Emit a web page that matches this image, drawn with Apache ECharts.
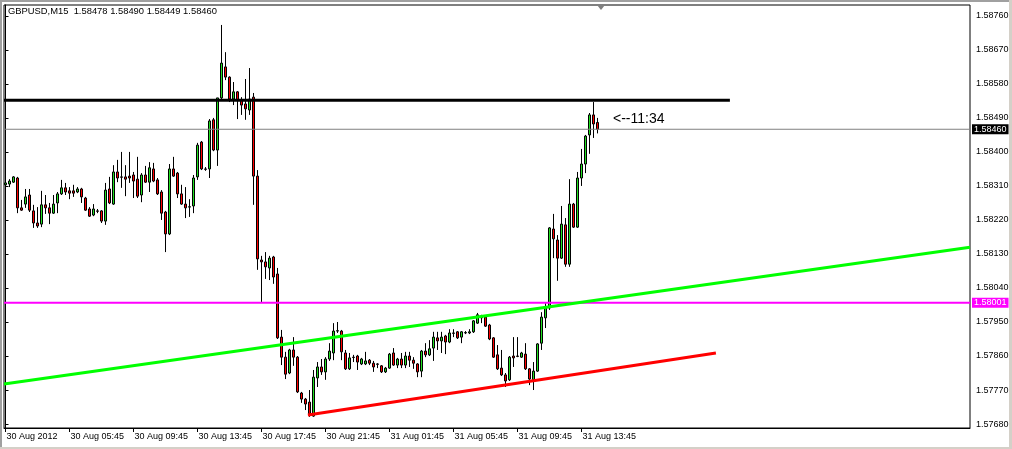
<!DOCTYPE html>
<html>
<head>
<meta charset="utf-8">
<script src="https://cdn.jsdelivr.net/npm/echarts@6/dist/echarts.min.js"></script>
<style>
html,body{margin:0;padding:0;background:#fff;}
#c{width:1012px;height:449px;}
</style>
</head>
<body>
<div id="c"></div>
<script>
// ---- data (GBPUSD M15, bar 0 = 30 Aug 01:45) ----
const tickBars = [0,16,32,48,64,80,96,112,128,144];
const tickLabels = ["30 Aug 2012","30 Aug 05:45","30 Aug 09:45","30 Aug 13:45","30 Aug 17:45","30 Aug 21:45","31 Aug 01:45","31 Aug 05:45","31 Aug 09:45","31 Aug 13:45"];
const yTicks = [1.57680,1.57770,1.57860,1.57950,1.58040,1.58130,1.58220,1.58310,1.58400,1.58490,1.58580,1.58670,1.58760];

const open = [
1.58313,1.58315,1.58320,1.58331,1.58252,1.58262,1.58286,1.58244,1.58212,1.58209,
1.58260,1.58252,1.58238,1.58265,1.58289,1.58305,1.58297,1.58297,1.58294,1.58302,
1.58278,1.58249,1.58233,1.58244,1.58244,1.58217,1.58302,1.58262,1.58347,1.58334,
1.58334,1.58336,1.58339,1.58328,1.58286,1.58339,1.58320,1.58355,1.58326,1.58294,
1.58241,1.58183,1.58355,1.58344,1.58289,1.58262,1.58254,1.58257,1.58334,1.58426,
1.58355,1.58355,1.58485,1.58405,1.58543,1.58625,1.58598,1.58540,1.58559,1.58537,
1.58527,1.58511,1.58545,1.58336,1.58114,1.58109,1.58093,1.58122,1.58077,1.57910,
1.57857,1.57815,1.57876,1.57857,1.57762,1.57746,1.57738,1.57701,1.57802,1.57831,
1.57818,1.57852,1.57868,1.57926,1.57926,1.57868,1.57826,1.57857,1.57860,1.57839,
1.57839,1.57849,1.57841,1.57839,1.57834,1.57818,1.57828,1.57868,1.57836,1.57852,
1.57836,1.57860,1.57849,1.57839,1.57820,1.57873,1.57863,1.57881,1.57908,1.57900,
1.57913,1.57897,1.57921,1.57924,1.57910,1.57921,1.57921,1.57924,1.57947,1.57966,
1.57963,1.57942,1.57908,1.57863,1.57828,1.57810,1.57797,1.57860,1.57860,1.57857,
1.57865,1.57826,1.57797,1.57820,1.57894,1.57961,1.57987,1.58196,1.58167,1.58119,
1.58207,1.58103,1.58262,1.58201,1.58331,1.58368,1.58445,1.58498,1.58478];
const high = [
1.58331,1.58328,1.58336,1.58334,1.58273,1.58302,1.58302,1.58260,1.58254,1.58297,
1.58286,1.58265,1.58286,1.58294,1.58326,1.58318,1.58307,1.58313,1.58307,1.58305,
1.58281,1.58254,1.58262,1.58249,1.58246,1.58318,1.58334,1.58365,1.58379,1.58400,
1.58365,1.58400,1.58347,1.58387,1.58344,1.58363,1.58373,1.58371,1.58331,1.58299,
1.58244,1.58368,1.58387,1.58347,1.58313,1.58307,1.58275,1.58339,1.58424,1.58429,
1.58360,1.58487,1.58490,1.58543,1.58736,1.58664,1.58600,1.58585,1.58561,1.58545,
1.58593,1.58622,1.58556,1.58352,1.58125,1.58135,1.58125,1.58125,1.58093,1.57929,
1.57871,1.57879,1.57910,1.57860,1.57765,1.57749,1.57770,1.57823,1.57844,1.57852,
1.57857,1.57894,1.57947,1.57950,1.57929,1.57876,1.57868,1.57863,1.57863,1.57855,
1.57871,1.57852,1.57847,1.57841,1.57836,1.57831,1.57868,1.57881,1.57855,1.57868,
1.57871,1.57871,1.57857,1.57841,1.57876,1.57894,1.57902,1.57924,1.57924,1.57924,
1.57916,1.57931,1.57931,1.57926,1.57926,1.57926,1.57931,1.57955,1.57974,1.57969,
1.57966,1.57945,1.57910,1.57889,1.57876,1.57815,1.57860,1.57910,1.57910,1.57871,
1.57894,1.57828,1.57844,1.57894,1.57976,1.58000,1.58201,1.58236,1.58180,1.58257,
1.58225,1.58328,1.58265,1.58347,1.58408,1.58445,1.58503,1.58532,1.58490];
const low = [
1.58297,1.58307,1.58318,1.58238,1.58244,1.58252,1.58241,1.58199,1.58199,1.58201,
1.58236,1.58209,1.58236,1.58238,1.58286,1.58286,1.58275,1.58281,1.58291,1.58265,
1.58244,1.58228,1.58230,1.58238,1.58212,1.58207,1.58262,1.58260,1.58320,1.58305,
1.58283,1.58318,1.58278,1.58278,1.58267,1.58318,1.58294,1.58320,1.58286,1.58220,
1.58135,1.58180,1.58334,1.58278,1.58260,1.58225,1.58228,1.58238,1.58326,1.58352,
1.58350,1.58331,1.58402,1.58363,1.58540,1.58590,1.58532,1.58524,1.58487,1.58498,
1.58485,1.58498,1.58260,1.58088,1.58003,1.58064,1.58061,1.58051,1.57905,1.57836,
1.57799,1.57812,1.57834,1.57762,1.57736,1.57717,1.57699,1.57699,1.57778,1.57810,
1.57797,1.57847,1.57849,1.57921,1.57849,1.57823,1.57823,1.57844,1.57823,1.57836,
1.57836,1.57836,1.57818,1.57828,1.57815,1.57815,1.57826,1.57834,1.57828,1.57828,
1.57828,1.57831,1.57826,1.57804,1.57804,1.57857,1.57860,1.57847,1.57876,1.57868,
1.57865,1.57894,1.57910,1.57905,1.57894,1.57918,1.57918,1.57921,1.57945,1.57947,
1.57937,1.57902,1.57855,1.57823,1.57807,1.57778,1.57794,1.57831,1.57857,1.57855,
1.57823,1.57783,1.57770,1.57818,1.57876,1.57934,1.57982,1.58119,1.58059,1.58117,
1.58096,1.58096,1.58199,1.58199,1.58310,1.58344,1.58395,1.58437,1.58449];
const close = [
1.58318,1.58323,1.58334,1.58252,1.58246,1.58281,1.58246,1.58212,1.58204,1.58260,
1.58252,1.58238,1.58262,1.58289,1.58305,1.58294,1.58291,1.58291,1.58302,1.58281,
1.58246,1.58230,1.58249,1.58243,1.58217,1.58299,1.58265,1.58347,1.58331,1.58333,
1.58328,1.58331,1.58323,1.58283,1.58339,1.58320,1.58358,1.58323,1.58289,1.58238,
1.58183,1.58355,1.58336,1.58289,1.58262,1.58252,1.58255,1.58331,1.58418,1.58355,
1.58354,1.58482,1.58405,1.58543,1.58635,1.58598,1.58540,1.58559,1.58537,1.58524,
1.58514,1.58540,1.58336,1.58117,1.58109,1.58096,1.58119,1.58069,1.57908,1.57857,
1.57812,1.57876,1.57857,1.57765,1.57746,1.57733,1.57707,1.57804,1.57831,1.57818,
1.57852,1.57873,1.57926,1.57927,1.57871,1.57826,1.57855,1.57856,1.57844,1.57852,
1.57847,1.57841,1.57831,1.57838,1.57818,1.57828,1.57865,1.57836,1.57852,1.57836,
1.57860,1.57849,1.57841,1.57818,1.57873,1.57863,1.57879,1.57910,1.57900,1.57910,
1.57897,1.57921,1.57920,1.57908,1.57924,1.57922,1.57924,1.57953,1.57969,1.57961,
1.57939,1.57905,1.57857,1.57826,1.57810,1.57794,1.57857,1.57855,1.57859,1.57868,
1.57826,1.57799,1.57820,1.57892,1.57963,1.57987,1.58199,1.58170,1.58119,1.58209,
1.58103,1.58262,1.58201,1.58331,1.58368,1.58442,1.58498,1.58474,1.58460];

// drawn objects: [bar index, price] anchors
const X_MIN = -0.375, X_MAX = 241.125;
const blackLine = [[X_MIN, 1.58537], [181.1, 1.58537]];
const greenLine = [[X_MIN, 1.57786], [X_MAX, 1.58148]];
const redLine = [[75.6, 1.57704], [177.6, 1.57868]];
const bidPrice = 1.58460;
const magentaPrice = 1.58001;
const header = "GBPUSD,M15  1.58478 1.58490 1.58449 1.58460";
const timerText = "<--11:34";

const candles = open.map((o, i) => [i, o, close[i], low[i], high[i]]);

const chart = echarts.init(document.getElementById('c'), null, {renderer: 'canvas'});
const FONT = 'Liberation Sans';
function hLine(price, color, width, tagBg) {
  return {
    type: 'line', data: [[X_MIN, price], [X_MAX, price]], symbol: 'none', silent: true, z: 4,
    lineStyle: {color: color, width: width},
    endLabel: {show: true, distance: 2, formatter: price.toFixed(5), color: '#fff', backgroundColor: tagBg,
      padding: [1, 2, 0, 2], fontFamily: FONT, fontSize: 9, align: 'left'}
  };
}
chart.setOption({
  animation: false,
  backgroundColor: '#ffffff',
  grid: {left: 4, right: 42, top: 5, bottom: 21, show: true, borderColor: '#000', borderWidth: 1, backgroundColor: '#fff'},
  xAxis: {
    type: 'value', min: X_MIN, max: X_MAX,
    axisLine: {show: true, onZero: false, lineStyle: {color: '#000', width: 1}},
    axisTick: {show: true, length: 4, customValues: tickBars, lineStyle: {color: '#000'}},
    axisLabel: {
      customValues: tickBars, color: '#000', fontFamily: FONT, fontSize: 9, margin: 4, align: 'left',
      padding: [0, 0, 0, 1],
      formatter: v => { const k = tickBars.indexOf(Math.round(v)); return k >= 0 ? tickLabels[k] : ''; }
    },
    splitLine: {show: false}
  },
  yAxis: {
    type: 'value', position: 'right', min: 1.576695, max: 1.587888, scale: true,
    axisLine: {show: true, lineStyle: {color: '#000', width: 1}},
    axisTick: {show: true, length: 3, customValues: yTicks, lineStyle: {color: '#000'}},
    axisLabel: {customValues: yTicks, color: '#000', fontFamily: FONT, fontSize: 9, margin: 6, formatter: v => v.toFixed(5)},
    splitLine: {show: false}
  },
  series: [
    hLine(bidPrice, '#808080', 1, '#000'),
    hLine(magentaPrice, '#ff00ff', 2, '#ff00ff'),
    {
      type: 'candlestick', data: candles, barWidth: 2, z: 3,
      itemStyle: {color: '#22e022', color0: '#ff0000', borderColor: '#000', borderColor0: '#000', borderColorDoji: '#000', borderWidth: 1}
    },
    {type: 'line', data: blackLine, symbol: 'none', silent: true, z: 5, lineStyle: {color: '#000', width: 3}},
    {type: 'line', data: greenLine, symbol: 'none', silent: true, z: 5, lineStyle: {color: '#00ff00', width: 3}},
    {type: 'line', data: redLine, symbol: 'none', silent: true, z: 5, lineStyle: {color: '#ff0000', width: 3}}
  ],
  graphic: [
    {type: 'text', left: 8, top: 7, style: {text: header, fill: '#000', font: '9.4px "Liberation Sans"'}},
    {type: 'text', left: 613, top: 112, style: {text: timerText, fill: '#000', font: '14px "Liberation Sans"'}},
    {type: 'polygon', shape: {points: [[597, 5], [605, 5], [601, 10]]}, style: {fill: '#808080'}},
    {type: 'rect', shape: {x: 0, y: 0, width: 1012, height: 2}, style: {fill: '#a0a0a0'}},
    {type: 'rect', shape: {x: 0, y: 0, width: 2, height: 449}, style: {fill: '#a0a0a0'}},
    {type: 'rect', shape: {x: 1009, y: 0, width: 3, height: 449}, style: {fill: '#d4d0c8'}},
    {type: 'rect', shape: {x: 0, y: 447, width: 1012, height: 2}, style: {fill: '#d4d0c8'}}
  ]
});
</script>
</body>
</html>
